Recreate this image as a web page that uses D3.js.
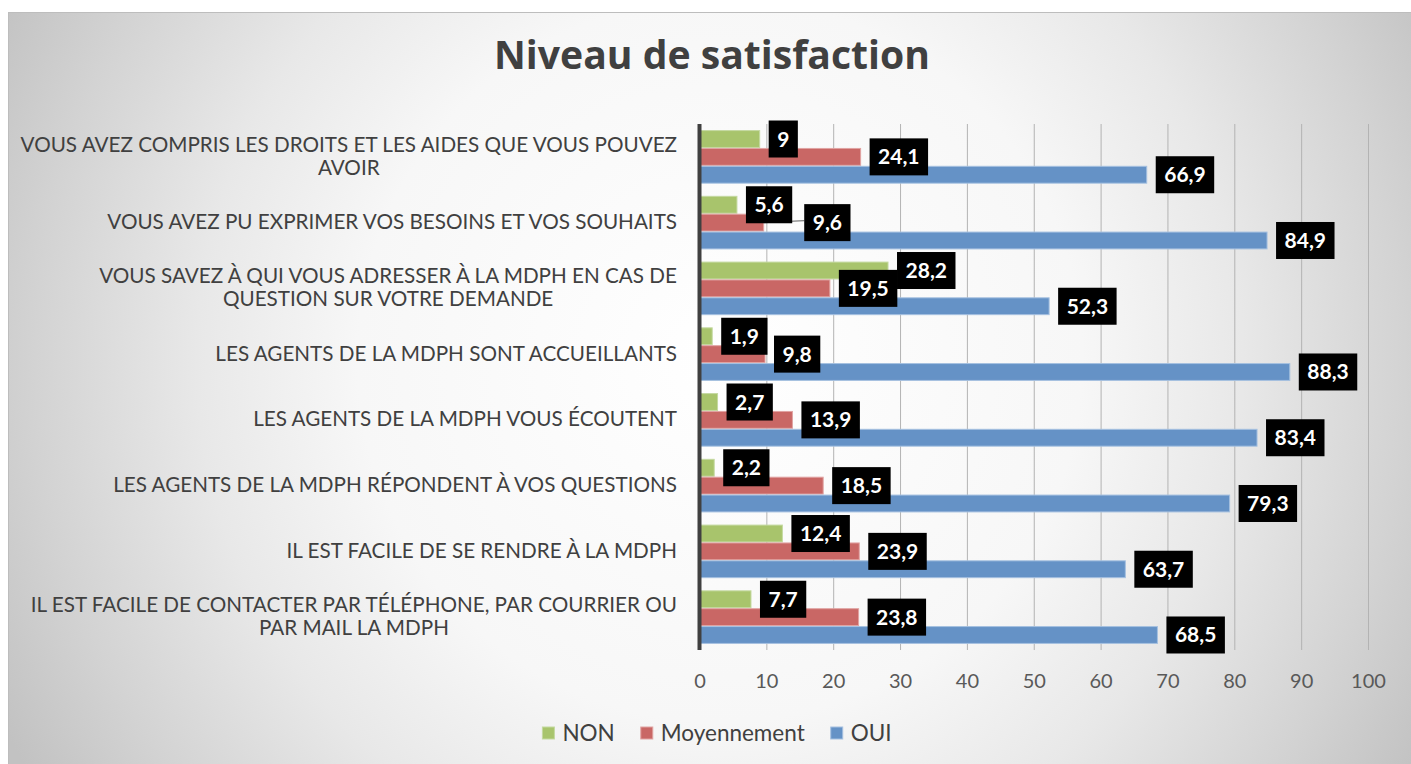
<!DOCTYPE html>
<html>
<head>
<meta charset="utf-8">
<script src="https://cdn.jsdelivr.net/npm/d3@7"></script>
<style>
	body{margin:0;background:#fff;}
	text{font-family:Lato,"Open Sans",sans-serif;}
</style>
</head>
<body>
<div id="barChart"></div>
<script>
// categories, top to bottom (lines as wrapped in the original)
const categories = [
	["VOUS AVEZ COMPRIS LES DROITS ET LES AIDES QUE VOUS POUVEZ","AVOIR"],
	["VOUS AVEZ PU EXPRIMER VOS BESOINS ET VOS SOUHAITS"],
	["VOUS SAVEZ À QUI VOUS ADRESSER À LA MDPH EN CAS DE","QUESTION SUR VOTRE DEMANDE"],
	["LES AGENTS DE LA MDPH SONT ACCUEILLANTS"],
	["LES AGENTS DE LA MDPH VOUS ÉCOUTENT"],
	["LES AGENTS DE LA MDPH RÉPONDENT À VOS QUESTIONS"],
	["IL EST FACILE DE SE RENDRE À LA MDPH"],
	["IL EST FACILE DE CONTACTER PAR TÉLÉPHONE, PAR COURRIER OU","PAR MAIL LA MDPH"]
];
const seriesNames = ["NON","Moyennement","OUI"];
const nonValues = [9,5.6,28.2,1.9,2.7,2.2,12.4,7.7];
const moyenValues = [24.1,9.6,19.5,9.8,13.9,18.5,23.9,23.8];
const ouiValues = [66.9,84.9,52.3,88.3,83.4,79.3,63.7,68.5];
const xTicks = [0,10,20,30,40,50,60,70,80,90,100];
const colors = ["#a8c46c","#c96765","#6592c6"];
const strokes = ["#c4d9a0","#e0a3a2","#a5c0e0"];

let W = 1411, H = 764;
let svg = d3.select("#barChart").append("svg").attr("width",W).attr("height",H);

// background gradient
let defs = svg.append("defs");
let grad = defs.append("radialGradient").attr("id","bg")
	.attr("gradientUnits","userSpaceOnUse")
	.attr("cx",720).attr("cy",360).attr("r",805);
[[0,"#ffffff"],[0.45,"#f7f7f7"],[0.65,"#e8e8e8"],[0.85,"#d3d3d3"],[1,"#c2c2c2"]].forEach(function(s){
	grad.append("stop").attr("offset",s[0]).attr("stop-color",s[1]);
});
svg.append("rect").attr("width",W).attr("height",H).attr("fill","#fff");
svg.append("rect").attr("x",8.5).attr("y",12.5).attr("width",W).attr("height",H)
	.attr("fill","url(#bg)").attr("stroke","#bdbdbd").attr("stroke-width",1);

// title (sized to the width it has in the original)
let title = svg.append("text")
	.attr("x",712).attr("y",69)
	.attr("text-anchor","middle")
	.style("font-family","'Open Sans',sans-serif")
	.style("font-size","33px").style("font-weight","bold")
	.attr("fill","#404040")
	.text("Niveau de satisfaction");
let tW = title.node().getComputedTextLength();
title.style("font-size",(33*436/tW)+"px");

let plotTop = 124, plotBottom = 650;
let xscale = d3.scaleLinear().domain([0,100]).range([699.5,1368]);
let yscale = d3.scaleBand().domain(d3.range(categories.length)).range([plotTop,plotBottom])
	.paddingInner(0.185).paddingOuter(0.0925);
let sub = d3.scaleBand().domain(seriesNames).range([0,yscale.bandwidth()]);

// grid + tick labels
let x_axis = d3.axisBottom(xscale).tickValues(xTicks).tickSize(-(plotBottom-plotTop)).tickPadding(24);
let gx = svg.append("g").attr("transform","translate(0,"+plotBottom+")").call(x_axis);
gx.select(".domain").remove();
gx.selectAll(".tick line").attr("stroke","#b3b3b3").attr("stroke-width",1);
gx.selectAll(".tick text").attr("fill","#595959").style("font-size","20px")
	.style("font-family","Lato,sans-serif");

// bars
let allValues = [nonValues,moyenValues,ouiValues];
let bars = svg.append("g");
allValues.forEach(function(vals,s){
	bars.selectAll(".bar"+s)
		.data(vals)
		.enter().append("rect")
		.attr("x",xscale(0))
		.attr("y",function(d,i){ return yscale(i)+sub(seriesNames[s])+0.5; })
		.attr("width",function(d){ return xscale(d)-xscale(0); })
		.attr("height",sub.bandwidth()-1)
		.attr("fill",colors[s])
		.attr("stroke",strokes[s]).attr("stroke-width",1);
});

// left axis line
svg.append("line").attr("x1",xscale(0)).attr("x2",xscale(0)).attr("y1",plotTop).attr("y2",plotBottom)
	.attr("stroke","#404040").attr("stroke-width",4);

// category labels
let catG = svg.append("g").style("font-family","'Open Sans',sans-serif");
let probe = catG.append("text").style("font-size","18px").text(categories[0][0]);
let catSize = 18*657/probe.node().getComputedTextLength();
probe.remove();
categories.forEach(function(lines,i){
	let cy = yscale(i)+yscale.bandwidth()/2;
	let g = catG.append("g");
	let t = g.selectAll("text").data(lines).enter().append("text")
		.attr("fill","#404040").style("font-size",catSize+"px")
		.attr("text-anchor","middle")
		.attr("y",function(d,j){ return cy+(j-(lines.length-1)/2)*23+6.5; })
		.text(function(d){ return d; });
	let maxW = d3.max(t.nodes(),function(n){ return n.getComputedTextLength(); });
	t.attr("x",677-maxW/2);
});

// data labels (black boxes), pushed right when they collide
let fmt = function(v){ return String(v).replace(".",","); };
let labelsG = svg.append("g");
categories.forEach(function(c,i){
	let placed = [];
	allValues.forEach(function(vals,s){
		let v = vals[i];
		let cy = yscale(i)+sub(seriesNames[s])+sub.bandwidth()/2;
		let txt = labelsG.append("text").attr("fill","#fff")
			.style("font-size","21px").style("font-weight","bold")
			.attr("text-anchor","middle").text(fmt(v));
		let tw = txt.node().getComputedTextLength();
		let bw = tw+17, bh = 37;
		let bx = xscale(v)+9, by = cy-bh/2;
		let moved = false;
		placed.forEach(function(p){
			let ox = Math.min(bx+bw,p.x+p.w)-Math.max(bx,p.x);
			let oy = Math.min(by+bh,p.y+p.h)-Math.max(by,p.y);
			if(ox>8 && oy>0){ bx = p.x+p.w+12; moved = true; }
		});
		if(moved){
			labelsG.insert("line",":first-child")
				.attr("x1",xscale(v)).attr("y1",cy).attr("x2",bx).attr("y2",cy-2)
				.attr("stroke","#7f7f7f").attr("stroke-width",1.5);
		}
		labelsG.insert("rect","text:last-child")
			.attr("x",bx).attr("y",by).attr("width",bw).attr("height",bh).attr("fill","#000");
		txt.attr("x",bx+bw/2).attr("y",cy+7.5);
		placed.push({x:bx,y:by,w:bw,h:bh});
	});
});

// legend
let legend = svg.append("g");
let lx = 0;
seriesNames.forEach(function(n,s){
	let it = legend.append("g").attr("transform","translate("+lx+",0)");
	it.append("rect").attr("x",0).attr("y",-6).attr("width",12).attr("height",12)
		.attr("fill",colors[s]).attr("stroke",strokes[s]);
	let t = it.append("text").attr("x",20).attr("y",8).attr("fill","#404040")
		.style("font-size","22.5px").text(n);
	lx += 20+t.node().getComputedTextLength()+26;
});
lx -= 26;
legend.attr("transform","translate("+(717-lx/2)+",733)");
</script>
</body>
</html>
